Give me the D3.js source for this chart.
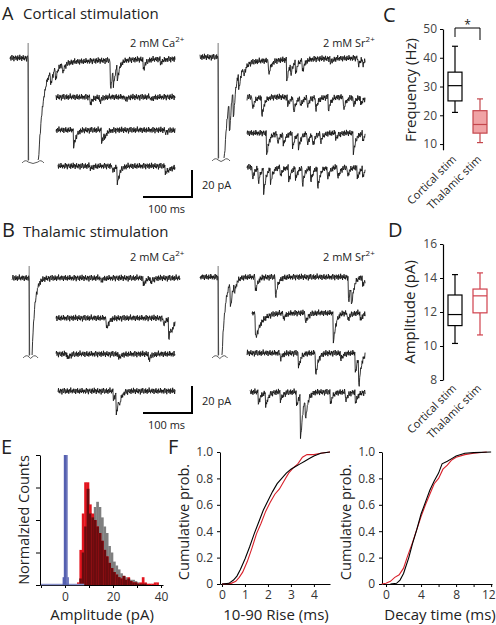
<!DOCTYPE html>
<html><head><meta charset="utf-8">
<script src="https://cdn.jsdelivr.net/npm/d3@7"></script>
<style>
body{margin:0;background:#fff}
svg{display:block}
text{font-family:"Open Sans",sans-serif;fill:#222}
</style>
</head><body>
<svg id="c" width="496" height="625"></svg>
<script>
// ================= DATA =================
// recorded-trace pattern of baseline noise (pA), read as a fixed sequence
const noisePattern=[0.4,-0.6,1.1,-0.2,-1.3,0.7,0.2,-0.9,1.4,-0.4,0.1,-1.0,0.8,0.5,-0.7,1.2,-1.1,0.3,-0.3,0.9,-1.4,0.6,0.0,-0.8,1.3,-0.5,0.4,-1.2,0.7,-0.1,1.0,-0.9,0.2,-0.6,1.5,-0.3,-1.0,0.8,0.3,-1.3,0.5,1.1,-0.7,-0.2,0.9,-1.1,0.6,-0.4,1.2,-0.8,0.1,0.7,-1.5,0.4,-0.2,1.0,-0.6,0.3,-1.0,0.8,0.2,-0.9,1.3,-0.3,-0.7,0.6,-1.2,0.9,0.0,-0.5,1.1,-1.0,0.5,-0.1,0.8,-1.3,0.4,-0.6,1.0,-0.4];

// Traces: duration (ms), stimulus time (ms), evoked components [t, pA, tau], minis [t(ms), pA, tau?]
const cortCaTraces=[
 {dur:337,stim:37,evoked:[[37,427,10.5],[37,5,150]],minis:[[82,10],[92,8],[106,6],[204,21],[210,12],[218,10],[271,7],[306,3]]},
 {dur:243,minis:[[69,5],[88,3],[140,2],[192,2]]},
 {dur:243,minis:[[35,12],[92,9],[98,3],[222,2]]},
 {dur:239,minis:[[65,2],[110,4],[120,12],[218,5,12]]}
];
const cortSrTraces=[
 {dur:337,stim:37,evoked:[[37,180,11],[37,5,150]],minis:[[59,25],[67,22],[78,12],[88,6],[139,10],[176,15],[184,8],[194,8],[208,8],[265,3],[322,5],[331,4]]},
 {dur:241,minis:[[10,8],[29,14],[82,6],[94,11],[108,6],[122,6],[139,9],[165,9],[196,9],[216,6],[231,5]]},
 {dur:241,minis:[[39,16],[61,7],[73,8],[92,10],[104,10],[122,8],[133,8],[149,6],[180,4],[216,14],[235,5]]},
 {dur:241,minis:[[10,8],[22,10],[33,17],[47,10],[67,6],[84,10],[98,8],[112,12],[129,10],[143,15],[163,8],[184,8],[204,6],[224,8],[235,6]]}
];
const thalCaTraces=[
 {dur:343,stim:35,evoked:[[35,115,5.7]],minis:[[180,2],[267,5],[282,3]]},
 {dur:243,minis:[[102,8],[218,5],[229,15],[235,6]]},
 {dur:243,minis:[[22,3],[127,3],[188,4]]},
 {dur:239,minis:[[112,6],[118,15],[124,5]]}
];
const thalSrTraces=[
 {dur:337,stim:37,evoked:[[37,136,6.9]],minis:[[61,18],[69,6],[112,10],[153,14],[302,18],[308,15],[331,6]]},
 {dur:231,minis:[[6,18,12],[63,4],[108,7],[165,21],[194,5],[220,5]]},
 {dur:241,minis:[[67,4],[104,10],[139,16],[190,5],[220,14],[227,20]]},
 {dur:235,minis:[[16,8],[31,10],[61,6],[94,10],[102,32],[112,15],[163,8],[194,6],[214,8]]}
];
const scaleBarMs=100, scaleBarPA=20;

// C: frequency (Hz) box stats [min, q1, median, q3, max]
const boxCategories=["Cortical stim","Thalamic stim"];
const freqStats=[[21,25,30.3,35,44],[10.5,13.8,16.8,21.6,25.7]];
const freqTicks=[10,20,30,40,50];
// D: amplitude (pA)
const ampStats=[[10.15,11.2,11.85,13.0,14.2],[10.65,11.95,12.95,13.35,14.3]];
const ampTicks=[8,10,12,14,16];

// E: normalized histograms, 1-pA bins starting at 5 pA
const histStart=5;
const redCounts=[0.02,0.27,0.55,0.79,0.79,0.62,0.55,0.50,0.45,0.40,0.34,0.27,0.22,0.17,0.13,0.10,0.08,0.06,0.05,0.07,0.04,0.06,0.03,0.02,0.02,0.01,0.02,0.06,0.02,0.01,0.01,0.01,0.02,0.02];
const grayCounts=[0.00,0.05,0.25,0.45,0.74,0.55,0.52,0.60,0.64,0.60,0.52,0.45,0.40,0.30,0.25,0.18,0.15,0.12,0.09,0.07,0.06,0.05,0.04,0.04,0.03,0.02,0.01,0.01,0.01,0,0,0,0,0];
// blue noise histogram, 0.5-pA bins
const blueBins=[[-1.0,0.06],[-0.5,1.0],[0,1.0],[0.5,1.0],[1.0,0.06]];
const blueRange=[-10,8];
const ampAxisTicks=[-10,0,10,20,30,40];
const ampAxisLabels=[0,20,40];

// F: cumulative distributions [ms, prob]
const riseCortical=[[0,0],[0.3,0.005],[0.5,0.03],[0.65,0.06],[0.8,0.11],[1.0,0.19],[1.2,0.28],[1.4,0.38],[1.6,0.47],[1.8,0.56],[2.0,0.63],[2.2,0.7],[2.4,0.76],[2.6,0.8],[2.8,0.84],[3.0,0.87],[3.2,0.89],[3.4,0.91],[3.6,0.93],[3.8,0.95],[4.0,0.97],[4.3,0.99],[4.7,1.0]];
const riseThalamic=[[0,0],[0.4,0.005],[0.6,0.02],[0.75,0.05],[0.9,0.09],[1.1,0.17],[1.3,0.27],[1.5,0.38],[1.7,0.46],[1.9,0.55],[2.1,0.62],[2.3,0.68],[2.5,0.72],[2.7,0.78],[2.9,0.84],[3.1,0.88],[3.3,0.91],[3.5,0.96],[3.7,0.98],[4.0,0.98],[4.3,0.99],[4.7,1.0]];
const decayCortical=[[0.5,0],[1.2,0.005],[1.6,0.03],[2.0,0.08],[2.3,0.14],[2.6,0.2],[3.0,0.3],[3.5,0.41],[4.0,0.53],[4.5,0.62],[5.0,0.71],[5.5,0.78],[6.0,0.84],[6.4,0.91],[7.0,0.93],[7.5,0.95],[8.0,0.97],[9.0,0.99],[10,0.995],[12,1.0]];
const decayThalamic=[[-0.5,0],[0,0.005],[0.5,0.02],[1.0,0.05],[1.5,0.07],[2.0,0.12],[2.4,0.2],[3.0,0.31],[3.5,0.41],[4.0,0.51],[4.5,0.6],[5.0,0.68],[5.5,0.76],[6.0,0.8],[6.5,0.87],[7.0,0.9],[7.5,0.94],[8.0,0.96],[9.0,0.98],[10,0.99],[11.5,1.0]];
const probTicks=[0,0.2,0.4,0.6,0.8,1.0];
const riseTicks=[0,1,2,3,4];
const decayTicks=[0,4,8,12];

// ================= LAYOUT / STYLE =================
const svg=d3.select("#c");
const pxPerMs=0.49, pxPerPA=1.35, noiseGain=1.7;
const RED="#d8202a", PINKFILL="#f0a3a5", PINKSTROKE="#c4464c";

function txt(x,y,s,size,opt={}){
  const t=svg.append("text").attr("x",x).attr("y",y).attr("font-size",size).text(s);
  if(opt.anchor) t.attr("text-anchor",opt.anchor);
  if(opt.fill) t.style("fill",opt.fill);
  return t;
}
function ionLabel(x,y,ion){
  const t=svg.append("text").attr("x",x).attr("y",y).attr("font-size",11);
  t.append("tspan").text("2 mM "+ion);
  t.append("tspan").attr("dy",-5).attr("font-size",8).text("2+");
}

// ----- traces -----
const kMemo={};
function kern(t,tau){ if(t<0) return 0; return (1-Math.exp(-t/0.6))*Math.exp(-t/tau); }
function kpk(tau){ if(kMemo[tau]) return kMemo[tau]; let m=0; for(let t=0;t<60;t+=0.05) m=Math.max(m,kern(t,tau)); return kMemo[tau]=m; }

function drawTraces(rows,lay,offBase){
  const N=noisePattern.length;
  rows.forEach((r,i)=>{
    const x0=lay.x0[i], yb=lay.y[i];
    const clipY=r.stim!==undefined?lay.clipY:1e9;
    const xs=d3.scaleLinear().domain([0,r.dur]).range([x0,x0+r.dur*pxPerMs]);
    const ys=d3.scaleLinear().domain([0,scaleBarPA]).range([yb,yb+scaleBarPA*pxPerPA]);
    const comps=(r.evoked||[]).concat(r.minis.map(m=>[m[0],m[1],m[2]||5]));
    const pts=[];
    const off=offBase+i*23;
    for(let t=0,k=0;t<=r.dur;t+=1,k++){
      let v=0; comps.forEach(c=>{v+=c[1]*kern(t-c[0],c[2])/kpk(c[2]);});
      v+=noisePattern[(k+off)%N]*noiseGain;
      const y=ys(v);
      pts.push({t,y:Math.min(y,clipY),cl:y>clipY});
    }
    pts.forEach((p,j)=>{p.def=!p.cl||(j>0&&!pts[j-1].cl)||(j<pts.length-1&&!pts[j+1].cl);});
    svg.append("path").datum(pts)
      .attr("d",d3.line().defined(d=>d.def).x(d=>xs(d.t)).y(d=>d.y))
      .attr("fill","none").attr("stroke","#111").attr("stroke-width",0.85).attr("stroke-linejoin","round");
    if(r.stim!==undefined){
      const sx=xs(r.stim);
      svg.append("line").attr("x1",sx).attr("x2",sx).attr("y1",lay.artTop).attr("y2",clipY+1)
        .attr("stroke","#555").attr("stroke-width",0.8);
      const last=pts.filter(p=>p.cl).pop();
      const ex=last?xs(last.t):sx+6;
      const cy=clipY+2;
      svg.append("path")
        .attr("d",`M${sx-6},${cy+1} Q${sx-3},${cy-3} ${sx},${cy} Q${(sx+ex)/2},${cy+3} ${ex},${cy} Q${ex+3},${cy-3} ${ex+6},${cy+1}`)
        .attr("fill","none").attr("stroke","#333").attr("stroke-width",0.8);
    }
  });
}
drawTraces(cortCaTraces,{x0:[10,56,56,58],y:[58,97,130,166],clipY:160,artTop:43},0);
drawTraces(cortSrTraces,{x0:[200,247,247,247],y:[57,97,133,167],clipY:158,artTop:43},11);
drawTraces(thalCaTraces,{x0:[12,56,56,58],y:[278,318,354,391],clipY:355,artTop:266},37);
drawTraces(thalSrTraces,{x0:[200,252,247,250],y:[277,313,353,392],clipY:355,artTop:266},53);

function scaleBar(xr,yb,labelY1,labelY2){
  const w=scaleBarMs*pxPerMs, h=scaleBarPA*pxPerPA;
  svg.append("path").attr("d",`M${xr-w},${yb} H${xr} V${yb-h}`).attr("fill","none").attr("stroke","#000").attr("stroke-width",2);
  txt(xr+10,labelY1,scaleBarPA+" pA",11);
  txt(xr-w/2-1,labelY2,scaleBarMs+" ms",11,{anchor:"middle"});
}
scaleBar(192,197,189,213);
scaleBar(192,413,405,429);

txt(2,20,"A",18); txt(23,19,"Cortical stimulation",15);
txt(2,237,"B",20); txt(23,237,"Thalamic stimulation",15);
ionLabel(130,47,"Ca"); ionLabel(323,47,"Sr");
ionLabel(130,261,"Ca"); ionLabel(323,261,"Sr");

// ----- C & D box plots -----
const xBox=d3.scalePoint().domain(boxCategories).range([455,480]);
function boxPanel(stats,ys,ticks,ylabel,labY,labX,catY,fills){
  const ax=svg.append("g").attr("transform","translate(443,0)")
    .call(d3.axisLeft(ys).tickValues(ticks).tickSize(3).tickSizeOuter(0).tickPadding(3));
  ax.select(".domain").attr("stroke","#000").attr("stroke-width",1.2);
  ax.selectAll(".tick line").attr("stroke","#000");
  ax.selectAll(".tick text").attr("font-size",12).style("fill","#444").attr("font-family",'"Open Sans",sans-serif');
  svg.append("text").attr("transform",`translate(${labX},${labY}) rotate(-90)`).attr("text-anchor","middle")
    .attr("font-size",15).text(ylabel);
  stats.forEach((s,i)=>{
    const cx=xBox(boxCategories[i]), w=14;
    const st=fills[i].stroke, fl=fills[i].fill;
    const g=svg.append("g").attr("stroke",st).attr("stroke-width",1.2);
    g.append("line").attr("x1",cx).attr("x2",cx).attr("y1",ys(s[0])).attr("y2",ys(s[1]));
    g.append("line").attr("x1",cx).attr("x2",cx).attr("y1",ys(s[3])).attr("y2",ys(s[4]));
    g.append("line").attr("x1",cx-3).attr("x2",cx+3).attr("y1",ys(s[0])).attr("y2",ys(s[0]));
    g.append("line").attr("x1",cx-3).attr("x2",cx+3).attr("y1",ys(s[4])).attr("y2",ys(s[4]));
    g.append("rect").attr("x",cx-w/2).attr("y",ys(s[3])).attr("width",w).attr("height",ys(s[1])-ys(s[3])).attr("fill",fl);
    g.append("line").attr("x1",cx-w/2).attr("x2",cx+w/2).attr("y1",ys(s[2])).attr("y2",ys(s[2]));
    svg.append("text").attr("transform",`translate(${cx+2},${catY}) rotate(-45)`).attr("text-anchor","end")
      .attr("font-size",11).text(boxCategories[i]);
  });
}
const yC=d3.scaleLinear().domain([8,50]).range([149.8,29]);
boxPanel(freqStats,yC,freqTicks,"Frequency (Hz)",90,416,160,
  [{stroke:"#000",fill:"#fff"},{stroke:PINKSTROKE,fill:PINKFILL}]);
svg.append("path").attr("d",`M${xBox(boxCategories[0])},37 V28 H${xBox(boxCategories[1])} V40`).attr("fill","none").attr("stroke","#000").attr("stroke-width",1);
txt(467.5,29,"*",12,{anchor:"middle"});
txt(383,22,"C",20);

const yD=d3.scaleLinear().domain([8,16]).range([380,244]);
boxPanel(ampStats,yD,ampTicks,"Amplitude (pA)",312,415,389,
  [{stroke:"#000",fill:"#fff"},{stroke:"#d0404c",fill:"#fff"}]);
txt(388,237,"D",20);

// ----- E histogram -----
const xE=d3.scaleLinear().domain([-10.42,40.83]).range([40,163]);
const yE=d3.scaleLinear().domain([0,1]).range([585,455]);
redCounts.forEach((v,i)=>{ const a=histStart+i, g=grayCounts[i];
  if(g>0) svg.append("rect").attr("x",xE(a)).attr("width",xE(a+1)-xE(a)+0.3).attr("y",yE(g)).attr("height",yE(0)-yE(g)).attr("fill","#7f7f7f");
});
redCounts.forEach((v,i)=>{ const a=histStart+i, g=grayCounts[i];
  if(v>0) svg.append("rect").attr("x",xE(a)).attr("width",xE(a+1)-xE(a)+0.3).attr("y",yE(v)).attr("height",yE(0)-yE(v)).attr("fill","#e3141e");
  const m=Math.min(v,g);
  if(m>0) svg.append("rect").attr("x",xE(a)).attr("width",xE(a+1)-xE(a)+0.3).attr("y",yE(m)).attr("height",yE(0)-yE(m)).attr("fill","#6a0c0f");
});
const axE=svg.append("g").attr("transform","translate(0,585)")
  .call(d3.axisBottom(xE).tickValues(ampAxisTicks).tickSize(3).tickSizeOuter(0).tickPadding(4)
  .tickFormat(d=>ampAxisLabels.includes(d)?d:""));
axE.selectAll(".tick text").attr("font-size",12).style("fill","#333").attr("font-family",'"Open Sans",sans-serif');
axE.select(".domain").attr("stroke","#000");
svg.append("line").attr("x1",xE(blueRange[0])).attr("x2",xE(blueRange[1])).attr("y1",584.5).attr("y2",584.5).attr("stroke","#8a92cc").attr("stroke-width",1.5);
blueBins.forEach(b=>svg.append("rect").attr("x",xE(b[0])).attr("width",xE(b[0]+0.5)-xE(b[0])+0.2).attr("y",yE(b[1])).attr("height",yE(0)-yE(b[1])).attr("fill","#5560b0"));
const ayE=svg.append("g").attr("transform","translate(40,0)")
  .call(d3.axisLeft(yE).tickValues([0,0.25,0.5,0.75,1]).tickSize(4).tickSizeOuter(0).tickFormat(""));
ayE.select(".domain").attr("stroke","#000");
svg.append("text").attr("transform","translate(29,520) rotate(-90)").attr("text-anchor","middle").attr("font-size",14.5).text("Normalzied Counts");
txt(102,620,"Amplitude (pA)",15,{anchor:"middle"});
txt(1,454,"E",20);

// ----- F cumulative -----
function cdfPanel(xs,xticks,minor,black,red,xlabel,xlabX,ylabX){
  const yF=d3.scaleLinear().domain([0,1]).range([584,452]);
  const x0=xs.range()[0];
  const ay=svg.append("g").attr("transform",`translate(${x0},0)`)
    .call(d3.axisLeft(yF).tickValues(probTicks).tickSize(3).tickSizeOuter(0).tickPadding(4)
    .tickFormat(d=>d===0?"0":d3.format(".1f")(d)));
  const ax=svg.append("g").attr("transform","translate(0,584)")
    .call(d3.axisBottom(xs).tickValues(minor).tickSize(3).tickSizeOuter(0).tickPadding(3)
    .tickFormat(d=>xticks.includes(d)?d:""));
  [ay,ax].forEach(a=>{a.select(".domain").attr("stroke","#000");
    a.selectAll(".tick text").attr("font-size",12).style("fill","#333").attr("font-family",'"Open Sans",sans-serif');});
  ax.selectAll(".tick text").filter(d=>xs(d)>486).attr("text-anchor","end").attr("dx",4);
  const line=d3.line().x(d=>xs(d[0])).y(d=>yF(d[1]));
  svg.append("path").datum(red).attr("d",line).attr("fill","none").attr("stroke",RED).attr("stroke-width",1.1);
  svg.append("path").datum(black).attr("d",line).attr("fill","none").attr("stroke","#000").attr("stroke-width",1.1);
  svg.append("text").attr("transform",`translate(${ylabX},522) rotate(-90)`).attr("text-anchor","middle").attr("font-size",14.5).text("Cumulative prob.");
  txt(xlabX,620,xlabel,15,{anchor:"middle"});
}
cdfPanel(d3.scaleLinear().domain([-0.087,4.7]).range([220,330]),riseTicks,riseTicks,riseCortical,riseThalamic,"10-90 Rise (ms)",276,189);
cdfPanel(d3.scaleLinear().domain([-0.46,12.1]).range([382,492]),decayTicks,[0,2,4,6,8,10,12],decayCortical,decayThalamic,"Decay time (ms)",440,351);
txt(168,454,"F",20);
</script>
</body></html>
